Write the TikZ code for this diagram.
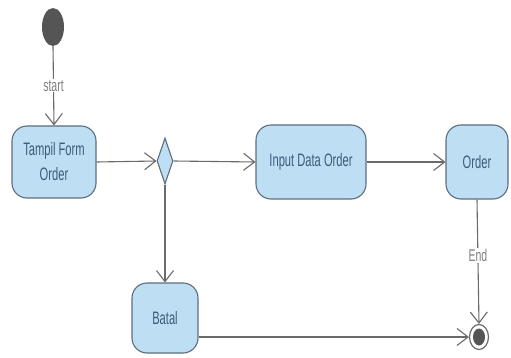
\documentclass[tikz,border=0pt]{standalone}
\usepackage{fontspec}
\setmainfont{Liberation Sans}[FakeStretch=0.62]
\usetikzlibrary{arrows.meta,shapes.geometric}
\definecolor{actfill}{HTML}{BEDFF3}
\definecolor{actline}{HTML}{5C6E7E}
\definecolor{acttext}{HTML}{3D5A78}
\definecolor{wire}{HTML}{6A6A6A}
\definecolor{dot}{HTML}{555555}
\begin{document}
\begin{tikzpicture}[x=1pt,y=-1pt,
  activity/.style={draw=actline,fill=actfill,line width=1.1pt,rounded corners=15pt,
    text=acttext,font=\fontsize{18}{20}\selectfont,align=center,inner sep=0pt},
  flow/.style={draw=wire,line width=1.1pt,-{Straight Barb[length=11pt,width=17pt,line width=1.1pt]}},
  lbl/.style={text=wire!85,font=\fontsize{17}{19}\selectfont,fill=white,inner sep=1pt}]
\useasboundingbox[fill=white] (0,0) rectangle (511,358);
% initial state
\node (init) [ellipse,fill=dot,minimum width=22pt,minimum height=38pt,inner sep=0pt] at (53,27) {};
% activities
\node (tampil) [activity,minimum width=84pt,minimum height=72pt] at (54,162) {Tampil Form\\[5pt]Order};
\node (input) [activity,minimum width=110pt,minimum height=74pt] at (311,162) {Input Data Order};
\node (order) [activity,minimum width=62pt,minimum height=74pt] at (477,162) {Order};
\node (batal) [activity,minimum width=66pt,minimum height=70pt] at (165,318) {Batal};
% decision
\node (dec) [diamond,draw=actline,fill=actfill,line width=1.1pt,minimum width=16pt,minimum height=46pt,inner sep=0pt,aspect=0.35] at (165,161) {};
% final state
\node (fin) [ellipse,draw=wire,line width=1.2pt,fill=white,minimum width=19pt,minimum height=25pt,inner sep=0pt] at (479,337) {};
\node (finc) [ellipse,fill=dot,minimum width=12pt,minimum height=17pt,inner sep=0pt] at (fin.center) {};
% flows
\draw[flow] (init.south) -- node[lbl]{start} (tampil.north);
\draw[flow] (tampil.east) -- (dec.west);
\draw[flow] (dec.east) -- (input.west);
\draw[flow] (input.east) -- (order.west);
\draw[flow] (dec.south) -- (batal.north);
\draw[flow] (order.south) -- node[lbl,pos=0.45]{End} (fin.north);
\draw[flow] (batal.east |- fin.west) -- (fin.west);
\end{tikzpicture}
\end{document}
